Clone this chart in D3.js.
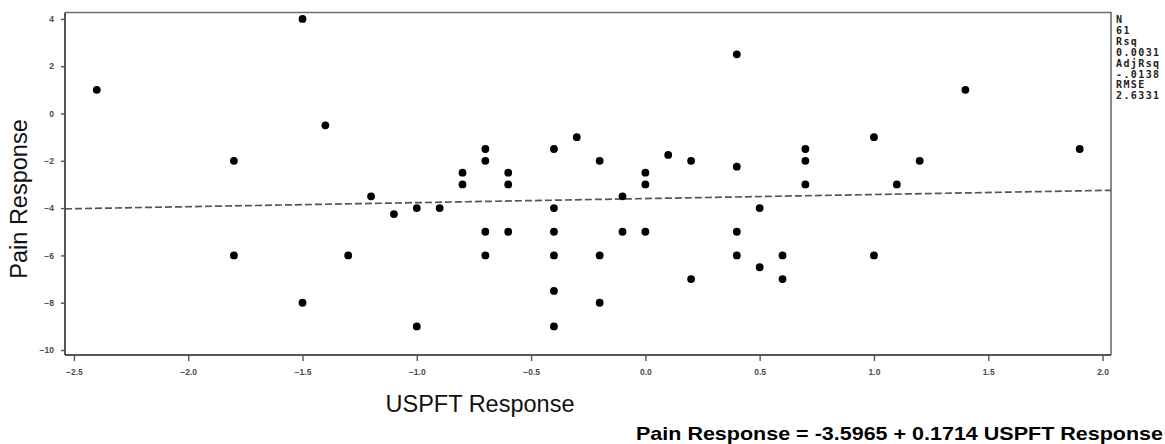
<!DOCTYPE html>
<html>
<head>
<meta charset="utf-8">
<script src="https://cdn.jsdelivr.net/npm/d3@7"></script>
<style>
  html, body { margin: 0; padding: 0; background: #fff; }
  svg { display: block; }
</style>
</head>
<body>
<svg id="chart" width="1165" height="444"></svg>
<script>
// ---- data ----
const uspft = [-2.4, -1.8, -1.8, -1.5, -1.5, -1.4, -1.3, -1.2, -1.1, -1.0, -1.0, -0.9,
  -0.8, -0.8, -0.7, -0.7, -0.7, -0.7, -0.6, -0.6, -0.6,
  -0.4, -0.4, -0.4, -0.4, -0.4, -0.4, -0.3, -0.2, -0.2, -0.2, -0.1, -0.1,
  0.0, 0.0, 0.0, 0.1, 0.2, 0.2, 0.4, 0.4, 0.4, 0.4, 0.5, 0.5, 0.6, 0.6,
  0.7, 0.7, 0.7, 1.0, 1.0, 1.1, 1.2, 1.4, 1.9];
const pain = [1, -2, -6, 4, -8, -0.5, -6, -3.5, -4.25, -4, -9, -4,
  -2.5, -3, -1.5, -2, -5, -6, -2.5, -3, -5,
  -1.5, -4, -5, -6, -7.5, -9, -1, -2, -6, -8, -3.5, -5,
  -2.5, -3, -5, -1.75, -2, -7, 2.5, -2.25, -5, -6, -4, -6.5, -6, -7,
  -1.5, -2, -3, -1, -6, -3, -2, 1, -1.5];
const xTicks = [-2.5, -2.0, -1.5, -1.0, -0.5, 0.0, 0.5, 1.0, 1.5, 2.0];
const yTicks = [4, 2, 0, -2, -4, -6, -8, -10];
const intercept = -3.5965;
const slope = 0.1714;
const statsLines = ["N", "61", "Rsq", "0.0031", "AdjRsq", "-.0138", "RMSE", "2.6331"];
const xTitle = "USPFT Response";
const yTitle = "Pain Response";
const equation = "Pain Response = -3.5965 + 0.1714 USPFT Response";

// ---- layout ----
const pL = 65, pR = 1111, pT = 12.5, pB = 355;
const x = d3.scaleLinear().domain([-2.539, 2.037]).range([pL, pR]);
const y = d3.scaleLinear().domain([-10.21, 4.27]).range([pB, pT]);

const svg = d3.select("#chart");

// frame top & right
svg.append("path")
  .attr("d", `M${pL},${pT}H${pR}V${pB}`)
  .attr("fill", "none").attr("stroke", "#6e6e6e").attr("stroke-width", 1.6);

// regression line
const xd = x.domain();
svg.append("line")
  .attr("x1", x(xd[0])).attr("y1", y(intercept + slope * xd[0]))
  .attr("x2", x(xd[1])).attr("y2", y(intercept + slope * xd[1]))
  .attr("stroke", "#555").attr("stroke-width", 1.7)
  .attr("stroke-dasharray", "7,3");

// points
svg.append("g").selectAll("circle")
  .data(uspft.map((v, i) => [v, pain[i]]))
  .join("circle")
  .attr("cx", d => x(d[0])).attr("cy", d => y(d[1]))
  .attr("r", 3.9).attr("fill", "#000");

// axes
const tickFont = "bold 8.5px 'Liberation Sans', Arial, sans-serif";
const xAxis = svg.append("g").attr("transform", `translate(0,${pB})`)
  .call(d3.axisBottom(x).tickValues(xTicks).tickFormat(d3.format(".1f")).tickSize(6).tickPadding(8).tickSizeOuter(0));
const yAxis = svg.append("g").attr("transform", `translate(${pL},0)`)
  .call(d3.axisLeft(y).tickValues(yTicks).tickFormat(d3.format("d")).tickSize(4).tickPadding(7).tickSizeOuter(0));
[xAxis, yAxis].forEach(g => {
  g.select(".domain").attr("stroke", "#555").attr("stroke-width", 2);
  g.selectAll(".tick line").attr("stroke", "#555").attr("stroke-width", 1.4);
  g.selectAll(".tick text").style("font", tickFont).attr("fill", "#4a4a4a");
});
xAxis.select(".domain").attr("d", `M${pL},0H${pR}`);
yAxis.select(".domain").attr("d", `M0,${pT}V${pB}`);

// axis titles
svg.append("text")
  .attr("x", 480).attr("y", 412)
  .attr("text-anchor", "middle")
  .style("font", "23.5px 'Liberation Sans', Arial, sans-serif")
  .attr("fill", "#111").text(xTitle);
svg.append("text")
  .attr("transform", "translate(27,199) rotate(-90)")
  .attr("text-anchor", "middle")
  .style("font", "23.5px 'Liberation Sans', Arial, sans-serif")
  .attr("fill", "#111").text(yTitle);

// stats block
svg.append("g").selectAll("text")
  .data(statsLines)
  .join("text")
  .attr("x", 1116).attr("y", (d, i) => 23 + i * 10.9)
  .style("font", "bold 10px 'DejaVu Sans Mono', 'Liberation Mono', monospace")
  .style("letter-spacing", "1.4px")
  .attr("fill", "#222")
  .text(d => d);

// equation
svg.append("text")
  .attr("x", 1163).attr("y", 440)
  .attr("text-anchor", "end")
  .attr("textLength", 527).attr("lengthAdjust", "spacingAndGlyphs")
  .style("font", "bold 19px 'Liberation Sans', Arial, sans-serif")
  .attr("fill", "#000").text(equation);
</script>
</body>
</html>
